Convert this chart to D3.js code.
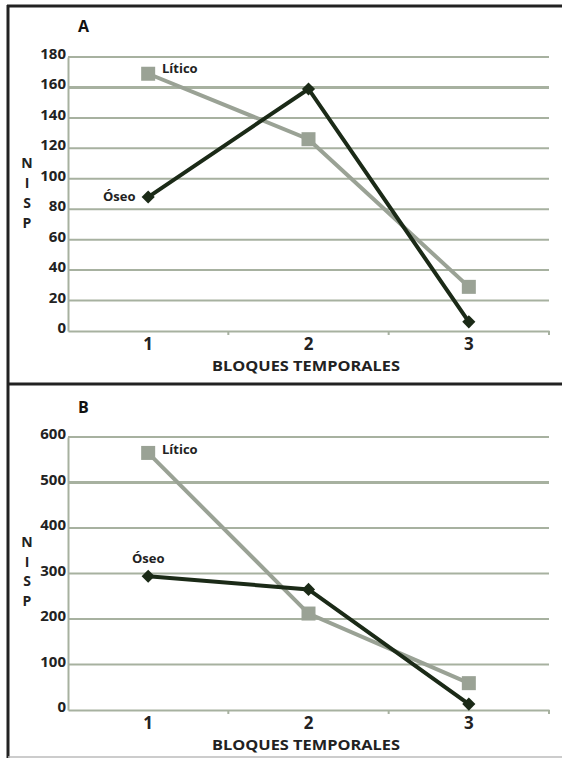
<!DOCTYPE html>
<html><head><meta charset="utf-8">
<script src="https://cdn.jsdelivr.net/npm/d3@7"></script>
<style>body{margin:0;background:#fff}svg{display:block}</style>
</head><body>
<svg id="c" width="562" height="758"></svg>
<script>
const categories = ["1","2","3"];
const liticoA = [169, 126, 29];
const oseoA = [88, 159, 6];
const liticoB = [565, 212, 59];
const oseoB = [294, 265, 13];
const ticksA = [0,20,40,60,80,100,120,140,160,180];
const ticksB = [0,100,200,300,400,500,600];
const seriesNames = ["Lítico","Óseo"];
const xTitle = "BLOQUES TEMPORALES";
const yTitle = ["N","I","S","P"];

const svg = d3.select("#c");
const colLit = "#9aa295", colOs = "#1b2a17", grid = "#a7b1a0";
const font = "'Open Sans', sans-serif";

// frame
svg.append("line").attr("x1",7).attr("x2",562).attr("y1",6).attr("y2",6).attr("stroke","#222").attr("stroke-width",3);
svg.append("line").attr("x1",8).attr("x2",562).attr("y1",384).attr("y2",384).attr("stroke","#222").attr("stroke-width",3);
svg.append("line").attr("x1",8).attr("x2",8).attr("y1",5).attr("y2",758).attr("stroke","#222").attr("stroke-width",3);
svg.append("line").attr("x1",8).attr("x2",562).attr("y1",757).attr("y2",757).attr("stroke","#bbb").attr("stroke-width",1.5);

function panel(o){
  const g = svg.append("g");
  const x = d3.scaleBand().domain(categories).range([68,549]);
  const y = d3.scaleLinear().domain([0,o.max]).range([o.y0,o.y1]);
  g.selectAll(".gl").data(o.ticks.filter(t=>t>0)).enter().append("line")
    .attr("x1",68).attr("x2",549).attr("y1",d=>y(d)).attr("y2",d=>y(d))
    .attr("stroke",grid).attr("stroke-width",d=>d===o.thick?3:2);
  const ya = d3.axisLeft(y).tickValues(o.ticks).tickSize(0).tickPadding(2);
  const yg = g.append("g").attr("transform","translate(68,0)").call(ya);
  yg.select(".domain").attr("stroke",grid).attr("stroke-width",2);
  yg.selectAll("text").attr("font-family",font).attr("font-weight","bold").attr("font-size",15).attr("fill","#222").attr("dy","0.1em");
  const xa = d3.axisBottom(x).tickSize(0).tickPadding(7);
  const xg = g.append("g").attr("transform",`translate(0,${o.y0})`).call(xa);
  xg.select(".domain").attr("stroke",grid).attr("stroke-width",2);
  xg.selectAll("text").attr("font-family",font).attr("font-weight","bold").attr("font-size",17).attr("fill","#222");
  g.selectAll(".bt").data(categories).enter().append("line")
    .attr("x1",d=>x(d)+x.bandwidth()).attr("x2",d=>x(d)+x.bandwidth())
    .attr("y1",o.y0).attr("y2",o.y0+4).attr("stroke",grid).attr("stroke-width",2);
  const cx = d=>x(d)+x.bandwidth()/2;
  const line = d3.line().x((d,i)=>cx(categories[i])).y(d=>y(d));
  g.append("path").datum(o.lit).attr("d",line).attr("fill","none").attr("stroke",colLit).attr("stroke-width",4);
  g.append("path").datum(o.os).attr("d",line).attr("fill","none").attr("stroke",colOs).attr("stroke-width",4);
  g.selectAll(".sq").data(o.lit).enter().append("rect")
    .attr("x",(d,i)=>cx(categories[i])-7).attr("y",d=>y(d)-7).attr("width",14).attr("height",14).attr("fill",colLit);
  g.selectAll(".dm").data(o.os).enter().append("path")
    .attr("d",d3.symbol(d3.symbolDiamond2,110))
    .attr("transform",(d,i)=>`translate(${cx(categories[i])},${y(d)})`).attr("fill",colOs);
  g.append("text").attr("x",o.litLbl[0]).attr("y",o.litLbl[1]).text(seriesNames[0])
    .attr("font-family",font).attr("font-weight","bold").attr("font-size",13).attr("fill","#222");
  g.append("text").attr("x",o.osLbl[0]).attr("y",o.osLbl[1]).text(seriesNames[1])
    .attr("font-family",font).attr("font-weight","bold").attr("font-size",13).attr("fill","#222");
  g.append("text").attr("x",78).attr("y",o.panelY).text(o.letter)
    .attr("font-family",font).attr("font-weight","bold").attr("font-size",16).attr("fill","#111");
  g.append("text").attr("x",306).attr("y",o.y0+40).attr("text-anchor","middle").text(xTitle)
    .attr("font-family",font).attr("font-weight","bold").attr("font-size",15).attr("fill","#222")
    .attr("textLength",188).attr("lengthAdjust","spacingAndGlyphs");
  g.selectAll(".yt").data(yTitle).enter().append("text")
    .attr("x",27).attr("y",(d,i)=>o.nisp+ i*o.nispStep).attr("text-anchor","middle").text(d=>d)
    .attr("font-family",font).attr("font-weight","bold").attr("font-size",14).attr("fill","#222");
}

panel({max:180, ticks:ticksA, y0:331, y1:57, lit:liticoA, os:oseoA, letter:"A", panelY:32, thick:160,
  litLbl:[162,73], osLbl:[103,201], nisp:168, nispStep:20});
panel({max:600, ticks:ticksB, y0:710, y1:437, lit:liticoB, os:oseoB, letter:"B", panelY:413, thick:500,
  litLbl:[162,454], osLbl:[132,563], nisp:547, nispStep:19.5});
</script>
</body></html>
